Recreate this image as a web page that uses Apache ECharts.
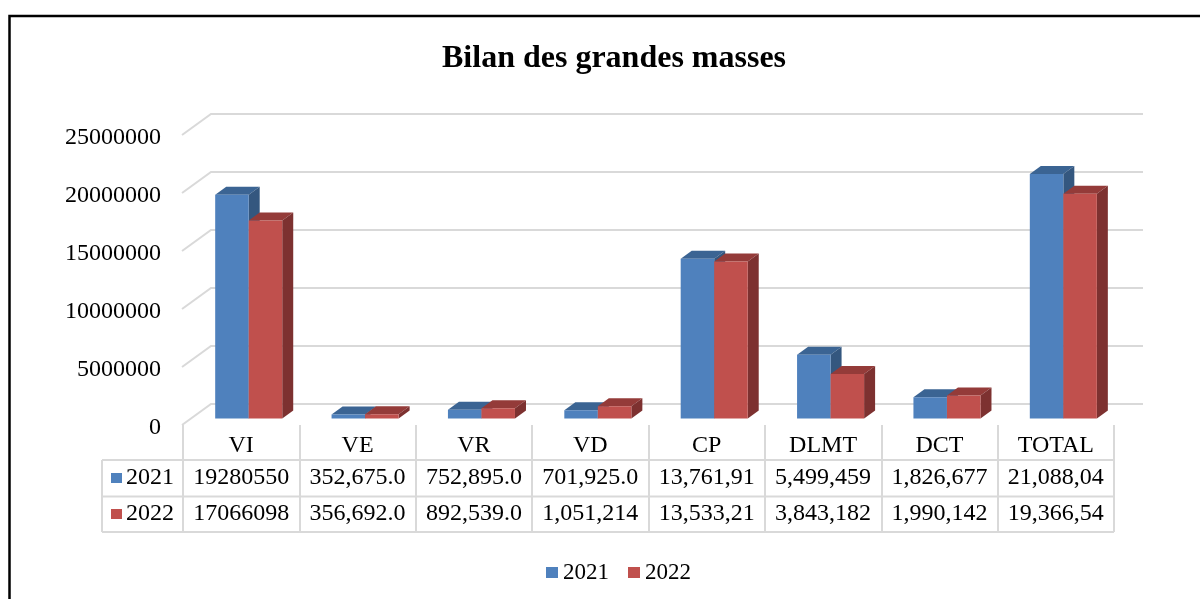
<!DOCTYPE html>
<html>
<head>
<meta charset="utf-8">
<script src="https://cdn.jsdelivr.net/npm/echarts@6/dist/echarts.min.js"></script>
<style>
html,body{margin:0;padding:0;background:#fff;}
#chart{width:1200px;height:599px;}
</style>
</head>
<body>
<div id="chart"></div>
<script>
// ---- data ----
const categories = ['VI','VE','VR','VD','CP','DLMT','DCT','TOTAL'];
const seriesNames = ['2021','2022'];
const values2021 = [19280550, 352675, 752895, 701925, 13761910, 5499459, 1826677, 21088040];
const values2022 = [17066098, 356692, 892539, 1051214, 13533210, 3843182, 1990142, 19366540];
const tableRow2021 = ['19280550','352,675.0','752,895.0','701,925.0','13,761,91','5,499,459','1,826,677','21,088,04'];
const tableRow2022 = ['17066098','356,692.0','892,539.0','1,051,214','13,533,21','3,843,182','1,990,142','19,366,54'];
const yTicks = [0, 5000000, 10000000, 15000000, 20000000, 25000000];
const titleText = 'Bilan des grandes masses';

// ---- style / layout ----
const FONT = 'Liberation Serif';
const GRID = {left: 183, right: 86, top: 135, bottom: 174};
const COLORS = {
  '2021': {front: '#4f81bd', top: '#3b6493', side: '#34577f'},
  '2022': {front: '#c0504d', top: '#943b39', side: '#7d3130'}
};
const LINE = '#d9d9d9';
const DX = 11, DY = 8, LIFT = 6.5;
const BAR_FRAC = 0.288, START_FRAC = -0.2234;
const GDX = 28, GDY = 21;

const chart = echarts.init(document.getElementById('chart'), null, {renderer: 'canvas'});

function barRenderer(s, col) {
  return function (params, api) {
    const i = api.value(0), v = api.value(1);
    const c = api.coord([i, v]);
    const b = api.coord([i, 0]);
    const band = api.size([1, 0])[0];
    const w = band * BAR_FRAC;
    const xl = c[0] + band * START_FRAC + s * w;
    const xr = xl + w;
    const yt = c[1] - LIFT, yb = b[1] - LIFT;
    return {
      type: 'group',
      children: [
        {type: 'polygon', shape: {points: [[xl, yt], [xr, yt], [xr + DX, yt - DY], [xl + DX, yt - DY]]}, style: {fill: col.top}},
        {type: 'polygon', shape: {points: [[xr, yt], [xr + DX, yt - DY], [xr + DX, yb - DY], [xr, yb]]}, style: {fill: col.side}},
        {type: 'rect', shape: {x: xl, y: yt, width: w, height: yb - yt}, style: {fill: col.front}}
      ]
    };
  };
}

function gridRenderer(params, api) {
  const cs = params.coordSys;
  const y = api.coord([0, api.value(1)])[1];
  return {
    type: 'polyline',
    shape: {points: [[cs.x - 1, y], [cs.x + GDX, y - GDY], [cs.x + cs.width + 29, y - GDY]]},
    style: {stroke: LINE, lineWidth: 2, fill: null}
  };
}

const labelBase = {fontFamily: FONT, fontSize: 24, color: '#000'};

function tableAxis(data, margin) {
  return {
    type: 'category', data: data, gridIndex: 0, position: 'bottom', offset: 0,
    axisLine: {show: false}, axisTick: {show: false}, splitLine: {show: false},
    axisLabel: Object.assign({}, labelBase, {margin: margin, interval: 0})
  };
}

const tableY = [460, 496.5, 532];
const graphics = [
  {type: 'rect', shape: {x: 9.5, y: 16, width: 1400, height: 800}, style: {fill: null, stroke: '#000', lineWidth: 2.5}, silent: true}
];
tableY.forEach(function (y) {
  graphics.push({type: 'line', shape: {x1: 102, y1: y, x2: 1114, y2: y}, style: {stroke: LINE, lineWidth: 2}, silent: true});
});
graphics.push({type: 'line', shape: {x1: 102, y1: 460, x2: 102, y2: 532}, style: {stroke: LINE, lineWidth: 2}, silent: true});
seriesNames.forEach(function (n, k) {
  const yc = [478, 514][k];
  graphics.push({type: 'rect', shape: {x: 111, y: yc - 5, width: 11, height: 10}, style: {fill: COLORS[n].front}, silent: true});
  graphics.push({type: 'text', x: 126, y: yc, style: {text: n, fontFamily: FONT, fontSize: 24, fill: '#000', verticalAlign: 'middle', align: 'left'}, silent: true});
});

const option = {
  animation: false,
  backgroundColor: '#fff',
  title: {
    text: titleText, left: 437, top: 38,
    textStyle: {fontFamily: FONT, fontSize: 32, fontWeight: 'bold', color: '#000'}
  },
  legend: {
    data: seriesNames, bottom: 10, left: 541, icon: 'rect',
    itemWidth: 12, itemHeight: 11, itemGap: 19,
    textStyle: {fontFamily: FONT, fontSize: 23, color: '#000'},
    selectedMode: false
  },
  grid: GRID,
  xAxis: [
    {
      type: 'category', data: categories, gridIndex: 0, position: 'bottom', offset: 0,
      axisLine: {show: false},
      axisTick: {show: true, length: 107, interval: 0, alignWithLabel: false, lineStyle: {color: LINE, width: 2}},
      splitLine: {show: false},
      axisLabel: Object.assign({}, labelBase, {margin: 9, interval: 0})
    },
    tableAxis(tableRow2021, 41),
    tableAxis(tableRow2022, 77)
  ],
  yAxis: {
    type: 'value', min: 0, max: 25000000, interval: 5000000,
    axisLine: {show: false}, axisTick: {show: false}, splitLine: {show: false},
    axisLabel: Object.assign({}, labelBase, {margin: 22, verticalAlign: 'top', lineHeight: 6, formatter: function (v) { return String(v); }})
  },
  series: [
    {
      type: 'custom', name: 'grid', silent: true, z: 1,
      renderItem: gridRenderer,
      data: yTicks.map(function (v) { return [0, v]; })
    },
    {
      type: 'custom', name: '2021', z: 2, silent: true,
      itemStyle: {color: COLORS['2021'].front},
      renderItem: barRenderer(0, COLORS['2021']),
      data: values2021.map(function (v, i) { return [i, v]; })
    },
    {
      type: 'custom', name: '2022', z: 3, silent: true,
      itemStyle: {color: COLORS['2022'].front},
      renderItem: barRenderer(1, COLORS['2022']),
      data: values2022.map(function (v, i) { return [i, v]; })
    }
  ],
  graphic: graphics
};
chart.setOption(option);
</script>
</body>
</html>
